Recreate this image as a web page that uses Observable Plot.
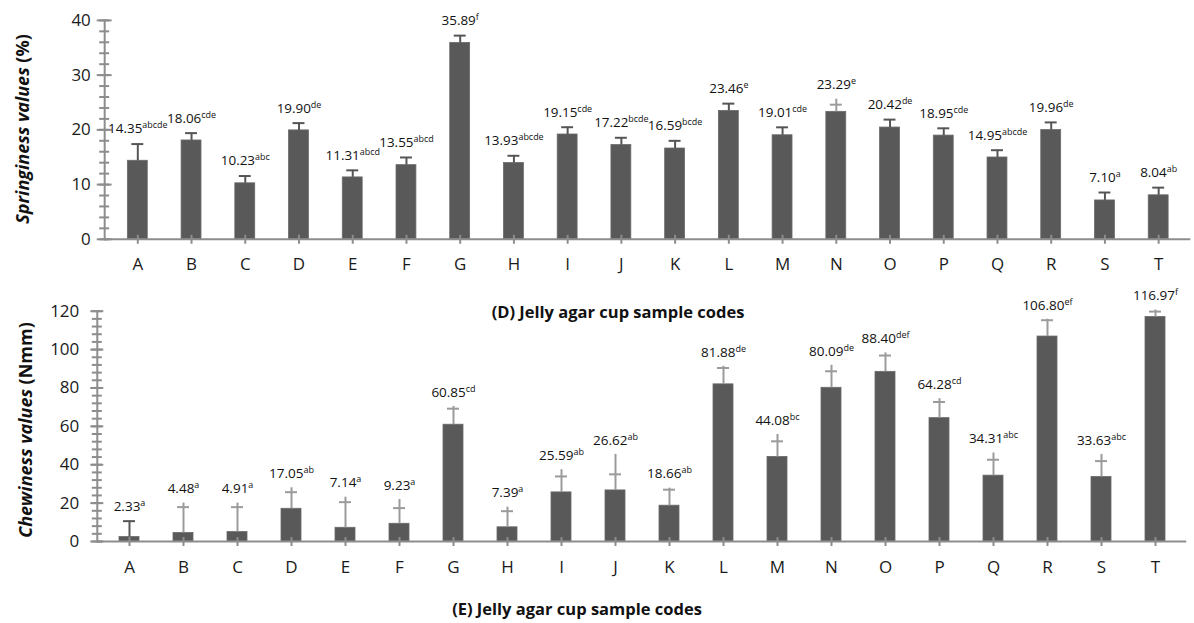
<!DOCTYPE html>
<html>
<head>
<meta charset="utf-8">
<script src="https://cdn.jsdelivr.net/npm/d3@7"></script>
<script src="https://cdn.jsdelivr.net/npm/@observablehq/plot@0.6"></script>
<style>
  html, body { margin: 0; padding: 0; background: #fff; overflow: hidden; }
  #wrap { position: relative; width: 1194px; height: 623px; font-family: "Open Sans", sans-serif; color: #111; }
  #top, #bottom { position: absolute; left: 0; }
  #top { top: 0; }
  #bottom { top: 290px; }
  .ytitle { position: absolute; transform: translate(-50%, -50%) rotate(-90deg); white-space: nowrap; font-weight: 700; font-size: 18px; }
  .ytitle i { font-style: italic; }
  .xtitle { position: absolute; transform: translate(-50%, -50%); white-space: nowrap; font-weight: 700; font-size: 16.5px; }
</style>
</head>
<body>
<div id="wrap">
  <div id="top"></div>
  <div id="bottom"></div>
  <div class="ytitle" style="left:22px; top:129px;"><i>Springiness values</i> (%)</div>
  <div class="ytitle" style="left:25px; top:430px;"><i>Chewiness values</i> (Nmm)</div>
  <div class="xtitle" style="left:618px; top:311px;">(D) Jelly agar cup sample codes</div>
  <div class="xtitle" style="left:577px; top:608px;">(E) Jelly agar cup sample codes</div>
</div>
<script>
// ---------- data ----------
const codes = ["A","B","C","D","E","F","G","H","I","J","K","L","M","N","O","P","Q","R","S","T"];

// (D) Springiness (%)
const springValues  = [14.35, 18.06, 10.23, 19.90, 11.31, 13.55, 35.89, 13.93, 19.15, 17.22, 16.59, 23.46, 19.01, 23.29, 20.42, 18.95, 14.95, 19.96, 7.10, 8.04];
const springLetters = ["abcde","cde","abc","de","abcd","abcd","f","abcde","cde","bcde","bcde","e","cde","e","de","cde","abcde","de","a","ab"];
const springCap     = [17.40, 19.40, 11.56, 21.23, 12.60, 14.95, 37.22, 15.26, 20.48, 18.55, 17.99, 24.79, 20.46, 24.60, 21.87, 20.28, 16.28, 21.36, 8.55, 9.44];
const springTop     = [17.40, 19.40, 11.56, 21.23, 12.60, 14.95, 37.22, 15.26, 20.48, 18.55, 17.99, 24.79, 20.46, 25.60, 21.87, 20.28, 16.28, 21.36, 8.55, 9.44];
const springMajorTicks = [0, 10, 20, 30, 40];
const springMinorTicks = [0, 2, 4, 6, 8, 10, 12, 14, 16, 18, 20, 22, 24, 26, 28, 30, 32, 34, 36, 38, 40];

// (E) Chewiness (Nmm)
const chewValues  = [2.33, 4.48, 4.91, 17.05, 7.14, 9.23, 60.85, 7.39, 25.59, 26.62, 18.66, 81.88, 44.08, 80.09, 88.40, 64.28, 34.31, 106.80, 33.63, 116.97];
const chewLetters = ["a","a","a","ab","a","a","cd","a","ab","ab","ab","de","bc","de","def","cd","abc","ef","abc","f"];
const chewCap     = [10.6, 17.9, 17.9, 25.7, 20.5, 17.4, 69.2, 15.8, 33.9, 35.0, 27.0, 90.4, 52.2, 88.7, 96.9, 72.7, 42.6, 115.3, 41.9, 119.8];
const chewTop     = [10.6, 20.0, 20.0, 28.0, 23.1, 21.9, 70.4, 17.9, 37.4, 45.4, 27.8, 91.3, 55.8, 91.8, 98.3, 74.4, 46.1, 115.8, 45.4, 120.6];
const chewMajorTicks = [0, 20, 40, 60, 80, 100, 120];
const chewMinorTicks = [0, 4, 8, 12, 16, 20, 24, 28, 32, 36, 40, 44, 48, 52, 56, 60, 64, 68, 72, 76, 80, 84, 88, 92, 96, 100, 104, 108, 112, 116, 120];

// ---------- chart ----------
const AXIS = "#8d8d8d";
const BAR = "#595959";
const ERR_DARK = "#555555";
const ERR_LIGHT = "#9b9b9b";
const SEP = "|";

function rowsOf(values, caps, tops, letters) {
  return codes.map((code, i) => ({code, value: values[i], cap: caps[i], top: tops[i], letters: letters[i]}));
}

function chart(rows, o) {
  const fmt = d3.format(".2f");
  const errColor = d => d.top > d.cap ? ERR_LIGHT : ERR_DARK;
  const svg = Plot.plot({
    width: o.width, height: o.height,
    marginLeft: o.marginLeft, marginRight: o.marginRight,
    marginTop: o.marginTop, marginBottom: o.marginBottom,
    style: {fontFamily: "'Open Sans', sans-serif", fontSize: "13px", color: "#1a1a1a", background: "transparent", overflow: "visible"},
    x: {domain: codes, paddingInner: 0.634, paddingOuter: 0.317},
    y: {domain: o.domain},
    marks: [
      Plot.barY(rows, {x: "code", y: "value", fill: BAR, stroke: "#6a6a6a", strokeWidth: 0.8}),
      Plot.ruleX(rows, {x: "code", y1: "value", y2: "top", stroke: errColor, strokeWidth: 2}),
      Plot.tickY(rows, {x: "code", y: "cap", stroke: errColor, strokeWidth: 2, insetLeft: 4, insetRight: 4}),
      Plot.frame({anchor: "left", stroke: AXIS, strokeWidth: 2}),
      Plot.ruleY([0], {stroke: AXIS, strokeWidth: 2}),
      Plot.axisY({ticks: o.minor, tickSize: 10, dx: 5, text: null, stroke: AXIS, strokeWidth: 2, label: null}),
      Plot.axisY({ticks: o.major, tickSize: o.majorSize, dx: o.majorSize / 2, text: null, stroke: AXIS, strokeWidth: 2, label: null}),
      Plot.axisY({ticks: o.major, tickSize: 0, tickPadding: o.yPad, fontSize: 17, label: null, tickFormat: d => String(d)}),
      Plot.axisX({tickSize: 9, dy: -4, text: null, stroke: AXIS, strokeWidth: 2, label: null}),
      Plot.axisX({tickSize: 0, tickPadding: 19, fontSize: 17, label: null}),
      Plot.text(rows, {x: "code", y: "top", text: d => fmt(d.value) + SEP + d.letters, dy: o.labelDy, lineAnchor: "middle", fontSize: 13.5, fill: "#111"})
    ]
  });
  const ns = "http://www.w3.org/2000/svg";
  svg.querySelectorAll("text").forEach(t => {
    const s = t.textContent;
    if (s.indexOf(SEP) < 0) return;
    const parts = s.split(SEP);
    while (t.firstChild) t.removeChild(t.firstChild);
    const a = document.createElementNS(ns, "tspan");
    a.textContent = parts[0];
    const b = document.createElementNS(ns, "tspan");
    b.textContent = parts[1];
    b.setAttribute("font-size", "9");
    b.setAttribute("dy", "-5");
    t.appendChild(a);
    t.appendChild(b);
  });
  return svg;
}

document.getElementById("top").appendChild(chart(rowsOf(springValues, springCap, springTop, springLetters), {
  width: 1200, height: 290, marginLeft: 104.7, marginRight: 3.7, marginTop: 20, marginBottom: 50,
  domain: [0, 40], major: springMajorTicks, minor: springMinorTicks, majorSize: 15, yPad: 14, labelDy: -15
}));

document.getElementById("bottom").appendChild(chart(rowsOf(chewValues, chewCap, chewTop, chewLetters), {
  width: 1194, height: 333, marginLeft: 96.8, marginRight: 7.8, marginTop: 20.7, marginBottom: 82,
  domain: [0, 120], major: chewMajorTicks, minor: chewMinorTicks, majorSize: 13, yPad: 18, labelDy: -14
}));
</script>
</body>
</html>
